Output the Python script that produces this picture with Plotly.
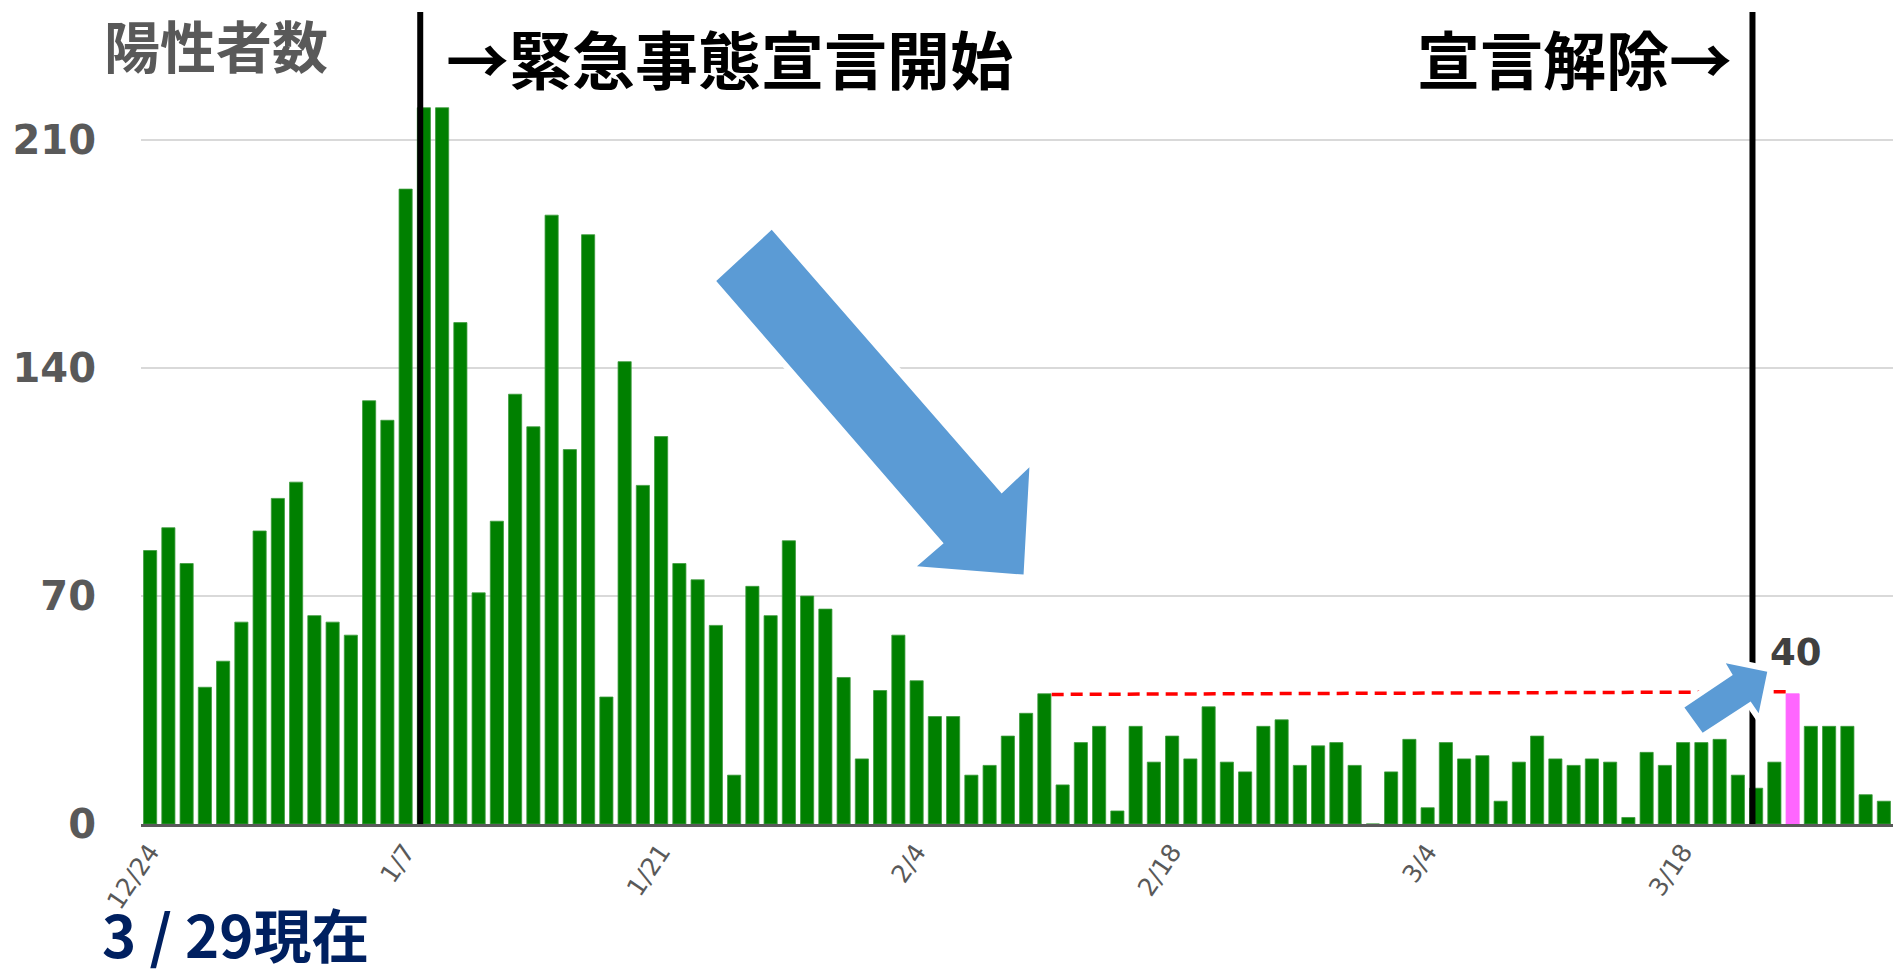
import pandas as pd
import plotly.graph_objects as go

# ---- data ----
start_date = "2020-12-24"
end_date = "2021-03-29"
dates = pd.date_range(start_date, end_date, freq="D")
date_labels = [f"{d.month}/{d.day}" for d in dates]

positives = [
    84, 91, 80, 42, 50, 62, 90, 100, 105, 64, 62, 58, 130, 124, 195,
    220, 220, 154, 71, 93, 132, 122, 187, 115, 181, 39, 142, 104, 119, 80,
    75, 61, 15, 73, 64, 87, 70, 66, 45, 20, 41, 58, 44, 33, 33,
    15, 18, 27, 34, 40, 12, 25, 30, 4, 30, 19, 27, 20, 36, 19,
    16, 30, 32, 18, 24, 25, 18, 0, 16, 26, 5, 25, 20, 21, 7,
    19, 27, 20, 18, 20, 19, 2, 22, 18, 25, 25, 26, 15, 11, 19,
    40, 30, 30, 30, 9, 7,
]

tick_labels = ["12/24", "1/7", "1/21", "2/4", "2/18", "3/4", "3/18"]
y_ticks = [0, 70, 140, 210]
highlight_label = "3/24"
reference_level = 40
reference_from = "2/11"
declaration_start = "1/7"   # line drawn just after this day
declaration_end = "3/21"    # line drawn just after this day

# ---- layout geometry (pixels of the 1897x978 page) ----
W, H = 1897, 978
L, R, T, B = 141, 4, 12, 154
plot_w = W - L - R
plot_h = H - T - B
y_max = 249.4
n = len(positives)


def px(X):
    return (X - L) / plot_w


def py(Y):
    return (H - B - Y) / plot_h


def dx(i):
    return (i + 0.5) / n


def dy(v):
    return v / y_max


idx = {lab: i for i, lab in enumerate(date_labels)}

colors = ["#FF66FF" if lab == highlight_label else "#008000" for lab in date_labels]
edge_colors = ["#FF66FF" if lab == highlight_label else "#3c9a3c" for lab in date_labels]

fig = go.Figure()
fig.add_trace(go.Bar(
    x=date_labels, y=positives,
    marker=dict(color=colors, line=dict(color=edge_colors, width=0.8)),
    width=0.72,
    hoverinfo="x+y",
))

shapes = []
# vertical lines
for lab in (declaration_start, declaration_end):
    xv = idx[lab] + 0.8
    shapes.append(dict(type="line", xref="x", yref="paper", x0=xv, x1=xv, y0=0, y1=1,
                       line=dict(color="black", width=6), layer="above"))
# dashed reference line
shapes.append(dict(type="line", xref="x", yref="y",
                   x0=idx[reference_from] + 0.4, x1=idx[highlight_label] - 0.3,
                   y0=reference_level - 0.2, y1=reference_level + 0.6,
                   line=dict(color="#FF0000", width=3.5, dash="12px,7px"), layer="above"))

# arrow polygons in (bar index, value) units
big_arrow = [(34.06, 182.5), (46.66, 101.5), (48.18, 109.6), (47.86, 76.6),
             (42.02, 79.2), (43.48, 86.2), (31.02, 166.8)]
small_arrow = [(84.07, 35.8), (86.72, 45.8), (86.34, 49.4), (88.61, 46.8),
               (88.14, 34.0), (87.70, 37.6), (85.07, 28.0)]


def poly(points):
    return "M " + " L ".join(f"{dx(a):.5f},{dy(b):.5f}" for a, b in points) + " Z"


for pts in (big_arrow, small_arrow):
    shapes.append(dict(type="path", xref="paper", yref="paper", path=poly(pts),
                       fillcolor="white", line=dict(color="white", width=12), layer="above"))
    shapes.append(dict(type="path", xref="paper", yref="paper", path=poly(pts),
                       fillcolor="#5B9BD5", line=dict(width=0), layer="above"))

cjk = "Noto Sans CJK JP"
annotations = [
    dict(text="<b>陽性者数</b>", x=px(216), y=py(43), xref="paper", yref="paper",
         xanchor="center", yanchor="middle", showarrow=False,
         font=dict(family=cjk, size=56, color="#595959")),
    dict(text="<b>→緊急事態宣言開始</b>", x=px(729), y=py(57), xref="paper", yref="paper",
         xanchor="center", yanchor="middle", showarrow=False,
         font=dict(family=cjk, size=63, color="black")),
    dict(text="<b>宣言解除→</b>", x=px(1574), y=py(57), xref="paper", yref="paper",
         xanchor="center", yanchor="middle", showarrow=False,
         font=dict(family=cjk, size=63, color="black")),
    dict(text="<b>3 / 29現在</b>", x=px(100), y=py(977), xref="paper", yref="paper",
         xanchor="left", yanchor="bottom", showarrow=False,
         font=dict(family=cjk, size=58, color="#002060")),
    dict(text=f"<b>{reference_level}</b>", x=px(1796), y=py(652), xref="paper", yref="paper",
         xanchor="center", yanchor="middle", showarrow=False,
         font=dict(family="DejaVu Sans", size=37, color="#404040")),
]

fig.update_layout(
    width=W, height=H,
    margin=dict(l=L, r=R, t=T, b=B, pad=0),
    paper_bgcolor="white", plot_bgcolor="white",
    showlegend=False,
    bargap=0.28,
    shapes=shapes,
    annotations=annotations,
    xaxis=dict(
        type="category", range=[-0.5, n - 0.5],
        tickmode="array", tickvals=tick_labels, ticktext=tick_labels,
        tickangle=-56, tickfont=dict(family="DejaVu Sans", size=25, color="#595959"),
        showgrid=False, showline=True, linecolor="#595959", linewidth=3,
        ticks="", fixedrange=True,
    ),
    yaxis=dict(
        range=[0, y_max], tickmode="array", tickvals=y_ticks,
        ticktext=[str(v) for v in y_ticks],
        tickfont=dict(family="DejaVu Sans", size=40, color="#595959", weight="bold"),
        showgrid=True, gridcolor="#D9D9D9", gridwidth=2,
        zeroline=False, showline=False, ticks="", ticklabelstandoff=44,
        fixedrange=True,
    ),
)

fig.write_html(
    "out.html",
    config={"displayModeBar": False},
    post_script="document.body.style.margin='0';document.body.style.overflow='hidden';",
)
